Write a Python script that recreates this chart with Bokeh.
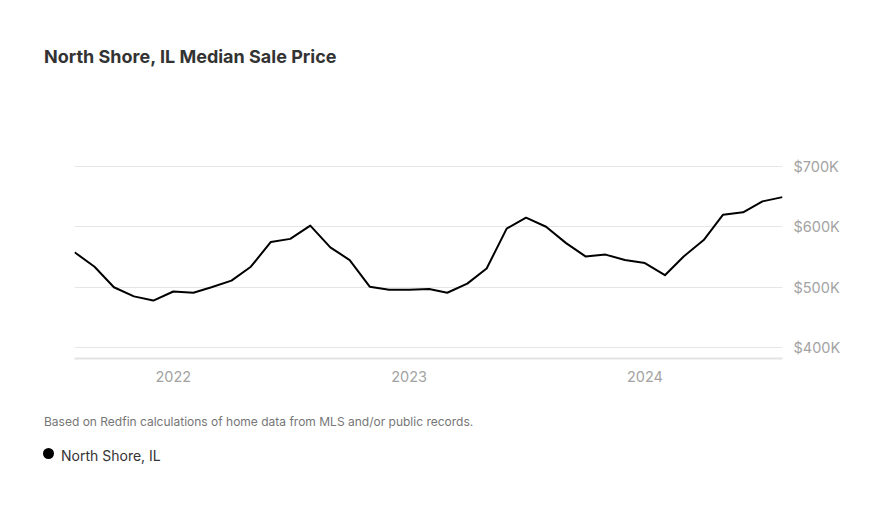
from datetime import datetime
from bokeh.plotting import figure
from bokeh.layouts import column
from bokeh.models import (Range1d, FixedTicker, PrintfTickFormatter, DatetimeTickFormatter,
                          ColumnDataSource, Div)
from bokeh.embed import file_html
from bokeh.resources import INLINE

# ---- data (median sale price, $K, monthly) ----
months = [
    "2021-08", "2021-09", "2021-10", "2021-11", "2021-12",
    "2022-01", "2022-02", "2022-03", "2022-04", "2022-05", "2022-06",
    "2022-07", "2022-08", "2022-09", "2022-10", "2022-11", "2022-12",
    "2023-01", "2023-02", "2023-03", "2023-04", "2023-05", "2023-06",
    "2023-07", "2023-08", "2023-09", "2023-10", "2023-11", "2023-12",
    "2024-01", "2024-02", "2024-03", "2024-04", "2024-05", "2024-06",
    "2024-07", "2024-08",
]
price_k = [
    558, 534, 500, 485, 478,
    493, 491, 500, 511, 534, 575,
    580, 602, 566, 545, 501, 496,
    496, 497, 491, 506, 531, 597,
    615, 600, 573, 551, 554, 545,
    540, 520, 551, 578, 620, 624,
    642, 649,
]
y_ticks = [400, 500, 600, 700]
x_tick_years = [2022, 2023, 2024]

title_text = "North Shore, IL Median Sale Price"
note_text = "Based on Redfin calculations of home data from MLS and/or public records."
series_name = "North Shore, IL"

FONT = "Inter"
W = 880

# ---- title ----
title_div = Div(text=title_text, width=700, height=20, margin=(47, 0, 33, 44),
                styles={"font-family": FONT, "font-size": "18px", "font-weight": "bold",
                        "color": "#333333", "line-height": "20px", "white-space": "nowrap"})

# ---- main chart ----
dates = [datetime.strptime(m, "%Y-%m") for m in months]
src = ColumnDataSource(dict(x=dates, y=price_k))

p = figure(width=W, height=295, output_backend="svg", toolbar_location=None,
           x_axis_type="datetime", y_axis_location="right",
           x_range=Range1d(dates[0], dates[-1]), y_range=Range1d(382.3, 808.7),
           min_border_left=74, min_border_right=98, min_border_top=0, min_border_bottom=37,
           margin=0)
p.outline_line_color = None
p.background_fill_color = "white"

p.line("x", "y", source=src, line_color="black", line_width=2, line_join="round")

ya = p.yaxis[0]
ya.ticker = FixedTicker(ticks=y_ticks)
ya.formatter = PrintfTickFormatter(format="$%dK")
ya.axis_line_color = None
ya.major_tick_line_color = None
ya.minor_tick_line_color = None
ya.major_tick_out = 0
ya.major_tick_in = 0
ya.minor_tick_out = 0
ya.major_label_standoff = 11
ya.major_label_text_font = FONT
ya.major_label_text_font_size = "14.5px"
ya.major_label_text_color = "#a3a3a3"

xa = p.xaxis[0]
xa.ticker = FixedTicker(ticks=[datetime(yr, 1, 1).timestamp() * 1000 for yr in x_tick_years])
xa.formatter = DatetimeTickFormatter(years="%Y", months="%Y", days="%Y")
xa.axis_line_color = "#e3e3e3"
xa.axis_line_width = 2
xa.major_tick_line_color = None
xa.minor_tick_line_color = None
xa.major_tick_out = 0
xa.major_tick_in = 0
xa.minor_tick_out = 0
xa.major_label_standoff = 12
xa.major_label_text_font = FONT
xa.major_label_text_font_size = "14.5px"
xa.major_label_text_color = "#a3a3a3"

p.xgrid.grid_line_color = None
p.ygrid.ticker = FixedTicker(ticks=y_ticks)
p.ygrid.grid_line_color = "#e6e6e6"
p.ygrid.grid_line_width = 1

# ---- footnote ----
note_div = Div(text=note_text, width=700, height=16, margin=(19, 0, 0, 44),
               styles={"font-family": FONT, "font-size": "12px", "color": "#767676",
                       "line-height": "16px", "white-space": "nowrap"})

# ---- legend ----
legend_html = (
    '<div style="display:flex;align-items:center;height:18px;">'
    '<span style="display:inline-block;width:11px;height:11px;border-radius:50%;'
    'background:#000;margin-right:7px;position:relative;top:-3px;"></span>'
    f'<span>{series_name}</span></div>'
)
legend_div = Div(text=legend_html, width=300, height=18, margin=(17, 0, 0, 43),
                 styles={"font-family": FONT, "font-size": "14px", "color": "#333333",
                         "line-height": "18px", "white-space": "nowrap"})

layout = column(title_div, p, note_div, legend_div, spacing=0)
open("out.html", "w").write(file_html(layout, INLINE))
